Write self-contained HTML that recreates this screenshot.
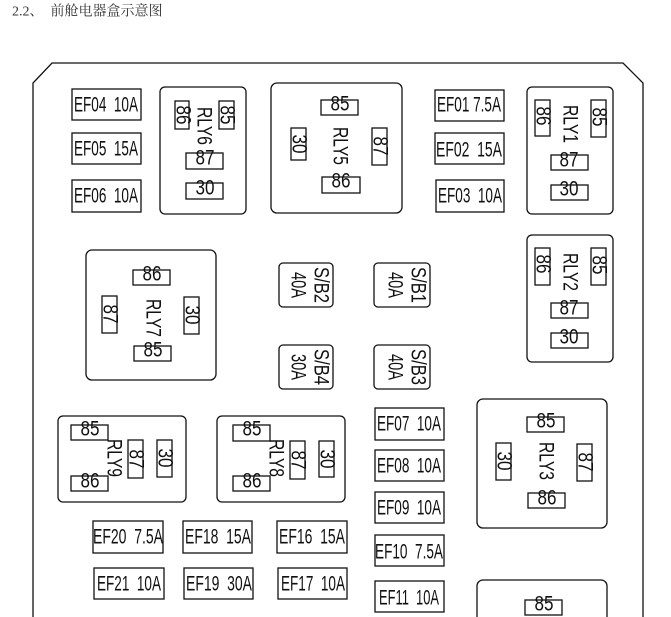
<!DOCTYPE html>
<html><head><meta charset="utf-8"><style>
html,body{margin:0;padding:0;background:#fff;width:671px;height:617px;overflow:hidden}
svg{display:block}
text{font-family:"Liberation Sans",sans-serif;fill:#111;dominant-baseline:central;text-anchor:middle;white-space:pre}
</style></head><body>
<svg width="671" height="617" viewBox="0 0 671 617" xmlns="http://www.w3.org/2000/svg">
<text x="12" y="12" style="text-anchor:start;font-family:'Liberation Serif','Noto Serif CJK SC',serif;font-size:14px;fill:#333">2.2、  前舱电器盒示意图</text>
<g fill="none" stroke="#111" stroke-width="1.3">
<path d="M33,617 L33,83 L52,63 L623,63 L643,83 L643,617"/>
<rect x="160" y="87" width="86" height="127" rx="5"/>
<rect x="271" y="83" width="131" height="130" rx="6"/>
<rect x="527" y="87" width="86" height="127" rx="5"/>
<rect x="527" y="235" width="86" height="127" rx="5"/>
<rect x="86" y="250" width="130" height="130" rx="6"/>
<rect x="58" y="416" width="128" height="86" rx="5"/>
<rect x="217" y="416" width="128" height="86" rx="5"/>
<rect x="477" y="399" width="130" height="129" rx="6"/>
<rect x="477" y="580" width="130" height="60" rx="6"/>
<rect x="279" y="263" width="54" height="44" rx="4"/>
<rect x="374" y="263" width="56" height="44" rx="4"/>
<rect x="279" y="345" width="54" height="44" rx="4"/>
<rect x="374" y="345" width="56" height="44" rx="4"/>
<rect x="72" y="89" width="69" height="31"/>
<rect x="72" y="133" width="69" height="31"/>
<rect x="72" y="180" width="69" height="32"/>
<rect x="435" y="90" width="69" height="31"/>
<rect x="435" y="133" width="69" height="31"/>
<rect x="436" y="180" width="68" height="32"/>
<rect x="375" y="408" width="69" height="32"/>
<rect x="375" y="450" width="69" height="31"/>
<rect x="375" y="492" width="69" height="31"/>
<rect x="375" y="535" width="69" height="31"/>
<rect x="375" y="581" width="69" height="31"/>
<rect x="93" y="521" width="70" height="32"/>
<rect x="183" y="521" width="69" height="32"/>
<rect x="277" y="521" width="70" height="32"/>
<rect x="94" y="568" width="70" height="31"/>
<rect x="184" y="568" width="69" height="31"/>
<rect x="278" y="568" width="69" height="31"/>
<rect x="186" y="153" width="37" height="16"/><rect x="186" y="183" width="37" height="16"/>
<rect x="321" y="100" width="37" height="15"/><rect x="322" y="177" width="38" height="16"/>
<rect x="551" y="155" width="37" height="15"/><rect x="551" y="185" width="37" height="15"/>
<rect x="551" y="303" width="37" height="15"/><rect x="551" y="333" width="37" height="15"/>
<rect x="133" y="270" width="37" height="15"/><rect x="134" y="346" width="37" height="15"/>
<rect x="71" y="425" width="37" height="15"/><rect x="71" y="476" width="37" height="15"/>
<rect x="233" y="425" width="37" height="16"/><rect x="233" y="476" width="37" height="15"/>
<rect x="527" y="417" width="37" height="15"/><rect x="528" y="493" width="37" height="15"/>
<rect x="525" y="600" width="37" height="15"/>
<rect x="175" y="101" width="14" height="28"/><rect x="219" y="101" width="15" height="28"/>
<rect x="291" y="128" width="15" height="32"/><rect x="372" y="128" width="15" height="37"/>
<rect x="535" y="100" width="15" height="36"/><rect x="591" y="100" width="15" height="37"/>
<rect x="535" y="248" width="15" height="37"/><rect x="591" y="248" width="15" height="37"/>
<rect x="102" y="296" width="15" height="37"/><rect x="184" y="297" width="15" height="37"/>
<rect x="128" y="440" width="15" height="38"/><rect x="157" y="440" width="15" height="37"/>
<rect x="290" y="441" width="15" height="38"/><rect x="319" y="441" width="15" height="36"/>
<rect x="496" y="443" width="15" height="37"/><rect x="577" y="444" width="15" height="37"/>
</g>
<g font-size="21">
<text x="106" y="105" textLength="64" lengthAdjust="spacingAndGlyphs">EF04  10A</text>
<text x="106" y="149" textLength="64" lengthAdjust="spacingAndGlyphs">EF05  15A</text>
<text x="106" y="196" textLength="64" lengthAdjust="spacingAndGlyphs">EF06  10A</text>
<text x="469" y="105" textLength="64" lengthAdjust="spacingAndGlyphs">EF01 7.5A</text>
<text x="469" y="150" textLength="66" lengthAdjust="spacingAndGlyphs">EF02  15A</text>
<text x="470" y="196" textLength="64" lengthAdjust="spacingAndGlyphs">EF03  10A</text>
<text x="409" y="424" textLength="64" lengthAdjust="spacingAndGlyphs">EF07  10A</text>
<text x="409" y="466" textLength="64" lengthAdjust="spacingAndGlyphs">EF08  10A</text>
<text x="409" y="508" textLength="64" lengthAdjust="spacingAndGlyphs">EF09  10A</text>
<text x="409" y="552" textLength="68" lengthAdjust="spacingAndGlyphs">EF10  7.5A</text>
<text x="409" y="598" textLength="60" lengthAdjust="spacingAndGlyphs">EF11  10A</text>
<text x="128" y="537" textLength="70" lengthAdjust="spacingAndGlyphs">EF20  7.5A</text>
<text x="218" y="537" textLength="66" lengthAdjust="spacingAndGlyphs">EF18  15A</text>
<text x="312" y="537" textLength="66" lengthAdjust="spacingAndGlyphs">EF16  15A</text>
<text x="129" y="584" textLength="64" lengthAdjust="spacingAndGlyphs">EF21  10A</text>
<text x="219" y="584" textLength="66" lengthAdjust="spacingAndGlyphs">EF19  30A</text>
<text x="313" y="584" textLength="64" lengthAdjust="spacingAndGlyphs">EF17  10A</text>
<text x="205" y="158" textLength="19" lengthAdjust="spacingAndGlyphs">87</text>
<text x="205" y="188" textLength="19" lengthAdjust="spacingAndGlyphs">30</text>
<text x="340" y="104" textLength="19" lengthAdjust="spacingAndGlyphs">85</text>
<text x="341" y="181" textLength="19" lengthAdjust="spacingAndGlyphs">86</text>
<text x="569" y="160" textLength="19" lengthAdjust="spacingAndGlyphs">87</text>
<text x="569" y="189" textLength="19" lengthAdjust="spacingAndGlyphs">30</text>
<text x="569" y="308" textLength="19" lengthAdjust="spacingAndGlyphs">87</text>
<text x="569" y="337" textLength="19" lengthAdjust="spacingAndGlyphs">30</text>
<text x="152" y="274" textLength="19" lengthAdjust="spacingAndGlyphs">86</text>
<text x="153" y="350" textLength="19" lengthAdjust="spacingAndGlyphs">85</text>
<text x="90" y="429" textLength="19" lengthAdjust="spacingAndGlyphs">85</text>
<text x="90" y="481" textLength="19" lengthAdjust="spacingAndGlyphs">86</text>
<text x="252" y="429" textLength="19" lengthAdjust="spacingAndGlyphs">85</text>
<text x="252" y="481" textLength="19" lengthAdjust="spacingAndGlyphs">86</text>
<text x="546" y="421" textLength="19" lengthAdjust="spacingAndGlyphs">85</text>
<text x="547" y="498" textLength="19" lengthAdjust="spacingAndGlyphs">86</text>
<text x="544" y="604" textLength="19" lengthAdjust="spacingAndGlyphs">85</text>
<text transform="translate(183,115) rotate(90)" textLength="19" lengthAdjust="spacingAndGlyphs">86</text>
<text transform="translate(227,115) rotate(90)" textLength="19" lengthAdjust="spacingAndGlyphs">85</text>
<text transform="translate(299,144) rotate(90)" textLength="19" lengthAdjust="spacingAndGlyphs">30</text>
<text transform="translate(380,146) rotate(90)" textLength="19" lengthAdjust="spacingAndGlyphs">87</text>
<text transform="translate(543,116) rotate(90)" textLength="19" lengthAdjust="spacingAndGlyphs">86</text>
<text transform="translate(599,117) rotate(90)" textLength="19" lengthAdjust="spacingAndGlyphs">85</text>
<text transform="translate(543,264) rotate(90)" textLength="19" lengthAdjust="spacingAndGlyphs">86</text>
<text transform="translate(599,265) rotate(90)" textLength="19" lengthAdjust="spacingAndGlyphs">85</text>
<text transform="translate(110,314) rotate(90)" textLength="19" lengthAdjust="spacingAndGlyphs">87</text>
<text transform="translate(192,315) rotate(90)" textLength="19" lengthAdjust="spacingAndGlyphs">30</text>
<text transform="translate(136,459) rotate(90)" textLength="19" lengthAdjust="spacingAndGlyphs">87</text>
<text transform="translate(165,458) rotate(90)" textLength="19" lengthAdjust="spacingAndGlyphs">30</text>
<text transform="translate(298,460) rotate(90)" textLength="19" lengthAdjust="spacingAndGlyphs">87</text>
<text transform="translate(327,459) rotate(90)" textLength="19" lengthAdjust="spacingAndGlyphs">30</text>
<text transform="translate(504,461) rotate(90)" textLength="19" lengthAdjust="spacingAndGlyphs">30</text>
<text transform="translate(585,462) rotate(90)" textLength="19" lengthAdjust="spacingAndGlyphs">87</text>
<text transform="translate(204,126) rotate(90)" textLength="38" lengthAdjust="spacingAndGlyphs">RLY6</text>
<text transform="translate(340,146) rotate(90)" textLength="38" lengthAdjust="spacingAndGlyphs">RLY5</text>
<text transform="translate(570,124) rotate(90)" textLength="38" lengthAdjust="spacingAndGlyphs">RLY1</text>
<text transform="translate(570,272) rotate(90)" textLength="38" lengthAdjust="spacingAndGlyphs">RLY2</text>
<text transform="translate(153,318) rotate(90)" textLength="38" lengthAdjust="spacingAndGlyphs">RLY7</text>
<text transform="translate(114,458) rotate(90)" textLength="38" lengthAdjust="spacingAndGlyphs">RLY9</text>
<text transform="translate(276,458) rotate(90)" textLength="38" lengthAdjust="spacingAndGlyphs">RLY8</text>
<text transform="translate(546,461) rotate(90)" textLength="38" lengthAdjust="spacingAndGlyphs">RLY3</text>
<text transform="translate(321,285) rotate(90)" textLength="36" lengthAdjust="spacingAndGlyphs">S/B2</text>
<text transform="translate(298,285) rotate(90)" textLength="26" lengthAdjust="spacingAndGlyphs">40A</text>
<text transform="translate(418,285) rotate(90)" textLength="36" lengthAdjust="spacingAndGlyphs">S/B1</text>
<text transform="translate(395,285) rotate(90)" textLength="26" lengthAdjust="spacingAndGlyphs">40A</text>
<text transform="translate(321,367) rotate(90)" textLength="36" lengthAdjust="spacingAndGlyphs">S/B4</text>
<text transform="translate(298,367) rotate(90)" textLength="26" lengthAdjust="spacingAndGlyphs">30A</text>
<text transform="translate(418,367) rotate(90)" textLength="36" lengthAdjust="spacingAndGlyphs">S/B3</text>
<text transform="translate(395,367) rotate(90)" textLength="26" lengthAdjust="spacingAndGlyphs">40A</text>
</g>
</svg>
</body></html>
